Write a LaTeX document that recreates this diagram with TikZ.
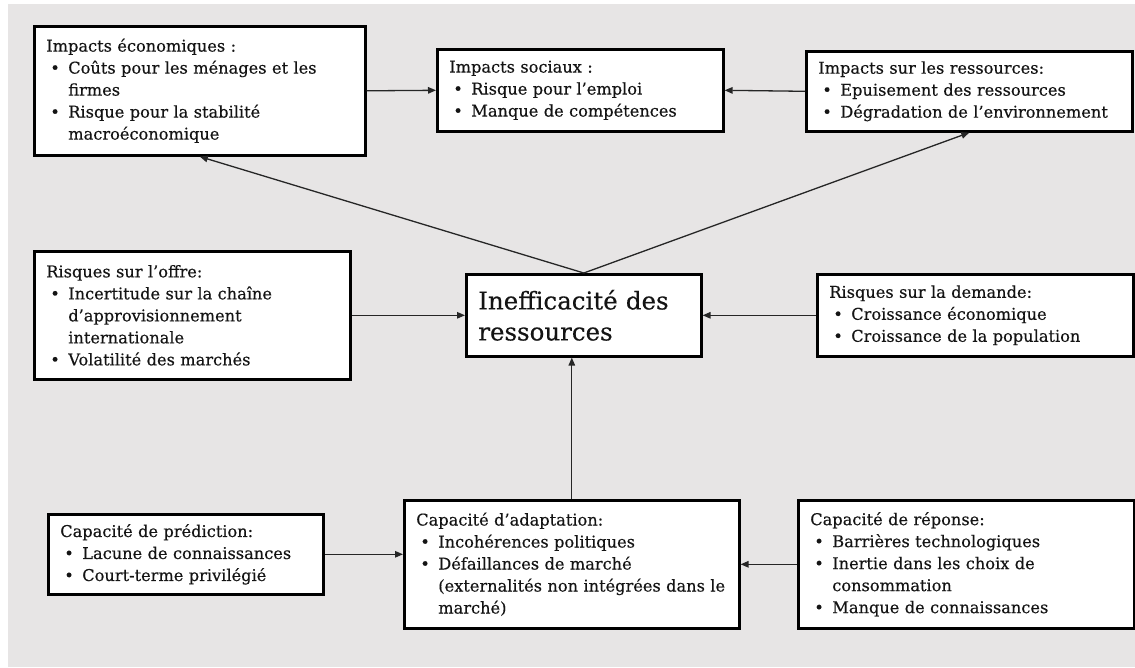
\documentclass[tikz,border=0pt]{standalone}
\usepackage{fontspec}
\setmainfont{DejaVu Serif}[FakeBold=0.35]
\usetikzlibrary{arrows.meta,calc}
\definecolor{panel}{HTML}{E7E5E5}
\definecolor{ink}{HTML}{141414}
\definecolor{wire}{HTML}{262626}
% one unbreakable line: heading, bulleted line, continuation line
\newcommand\ttl[1]{\mbox{#1}}
\newcommand\blt[1]{\mbox{\makebox[22pt][l]{\hspace{4pt}\textbullet}#1}}
\newcommand\cnt[1]{\mbox{\hspace*{22pt}#1}}
\begin{document}
\begin{tikzpicture}[x=1pt,y=-1pt,
  card/.style={draw=black, line width=2.6pt, fill=white, anchor=north west,
    inner xsep=12pt, inner ysep=0pt, align=left, text=ink,
    font=\fontsize{16.2}{22}\selectfont,
    execute at begin node={\baselineskip=22pt}},
  bigcard/.style={card, font=\fontsize{24.5}{31}\selectfont,
    execute at begin node={\baselineskip=31pt}},
  link/.style={draw=wire, line width=1.3pt, -{Triangle[length=8pt,width=6.5pt]}}]

\useasboundingbox (0,0) rectangle (1135,667);
\fill[white] (0,0) rectangle (1135,667);
\fill[panel] (8,4) rectangle (1135,667);

% impacts
\node[card, text width=307pt, minimum width=331pt, minimum height=129pt] (eco) at (33,25)
  {\ttl{Impacts économiques :}\\
   \blt{Coûts pour les ménages et les}\\
   \cnt{firmes}\\
   \blt{Risque pour la stabilité}\\
   \cnt{macroéconomique}};
\node[card, text width=262pt, minimum width=286pt, minimum height=82pt] (soc) at (436,48)
  {\ttl{Impacts sociaux :}\\
   \blt{Risque pour l’emploi}\\
   \blt{Manque de compétences}};
\node[card, text width=302pt, minimum width=326pt, minimum height=80pt] (res) at (805,50)
  {\ttl{Impacts sur les ressources:}\\
   \blt{Epuisement des ressources}\\
   \blt{Dégradation de l’environnement}};

% risks and central node
\node[card, text width=292pt, minimum width=316pt, minimum height=128pt] (offre) at (33,250)
  {\ttl{Risques sur l’offre:}\\
   \blt{Incertitude sur la chaîne}\\
   \cnt{d’approvisionnement}\\
   \cnt{internationale}\\
   \blt{Volatilité des marchés}};
\node[bigcard, text width=211pt, minimum width=235pt, minimum height=82pt] (ineff) at (465,273)
  {\ttl{Inefficacité des}\\
   \ttl{ressources}};
\node[card, text width=292pt, minimum width=316pt, minimum height=82pt] (dem) at (816,273)
  {\ttl{Risques sur la demande:}\\
   \blt{Croissance économique}\\
   \blt{Croissance de la population}};

% capacities
\node[card, text width=251pt, minimum width=275pt, minimum height=80pt] (pred) at (47,513)
  {\ttl{Capacité de prédiction:}\\
   \blt{Lacune de connaissances}\\
   \blt{Court-terme privilégié}};
\node[card, text width=311pt, minimum width=335pt, minimum height=128pt] (adapt) at (403,499)
  {\ttl{Capacité d’adaptation:}\\
   \blt{Incohérences politiques}\\
   \blt{Défaillances de marché}\\
   \cnt{(externalités non intégrées dans le}\\
   \cnt{marché)}};
\node[card, text width=312pt, minimum width=336pt, minimum height=128pt] (rep) at (797,499)
  {\ttl{Capacité de réponse:}\\
   \blt{Barrières technologiques}\\
   \blt{Inertie dans les choix de}\\
   \cnt{consommation}\\
   \blt{Manque de connaissances}};

% connectors
\draw[link] (eco.east) -- (soc.west);
\draw[link] (res.west) -- (soc.east);
\draw[link] (ineff.north) -- (eco.south);
\draw[link] (ineff.north) -- (res.south);
\draw[link] (offre.east) -- (offre.east -| ineff.west);
\draw[link] (dem.west) -- (dem.west -| ineff.east);
\draw[link] (adapt.north) -- (adapt.north |- ineff.south);
\draw[link] (pred.east) -- (pred.east -| adapt.west);
\draw[link] (rep.west) -- (rep.west -| adapt.east);
\end{tikzpicture}
\end{document}
